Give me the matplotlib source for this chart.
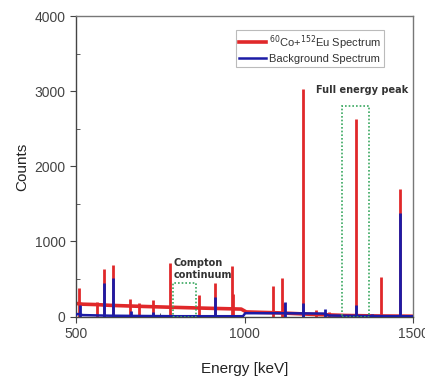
import matplotlib
matplotlib.use("Agg")
import matplotlib.pyplot as plt
from matplotlib.patches import Rectangle
from matplotlib.ticker import MultipleLocator

plt.rcParams['font.family'] = ['Liberation Sans', 'DejaVu Sans']

# Continuum (baseline) anchor points
red_base_energy = [500, 520, 560, 600, 700, 800, 900, 990, 1005, 1100, 1200, 1300, 1400, 1500]
red_base_counts = [175, 165, 160, 150, 135, 122, 110, 100, 62, 50, 30, 15, 8, 5]
blue_base_energy = [500, 505, 520, 600, 700, 800, 995, 1002, 1100, 1235, 1250, 1350, 1500]
blue_base_counts = [25, 35, 20, 12, 8, 5, 5, 45, 45, 40, 15, 8, 4]

# Peaks (energy keV, counts)
red_peak_energy = [509, 561, 583, 609, 661, 687, 727, 779, 866, 911, 963, 967, 1085, 1112, 1117, 1173, 1212, 1250, 1332, 1406, 1460]
red_peak_counts = [378, 200, 631, 689, 236, 180, 222, 711, 289, 444, 676, 300, 413, 520, 180, 3030, 90, 60, 2631, 533, 1698]
blue_peak_energy = [511, 583, 609, 662, 727, 911, 1120, 1173, 1238, 1332, 1377, 1460]
blue_peak_counts = [150, 444, 511, 80, 67, 267, 200, 180, 98, 155, 30, 1378]

red = '#e0282a'
blue = '#1c1ca6'
green = '#3aa860'

fig = plt.figure(figsize=(4.25, 3.76), dpi=100)
ax = fig.add_axes([0.179, 0.158, 0.793, 0.799])

ax.plot(red_base_energy, red_base_counts, color=red, lw=2.6, label=r'$^{60}$Co+$^{152}$Eu Spectrum', zorder=2)
ax.vlines(red_peak_energy, 0, red_peak_counts, color=red, lw=2.0, zorder=2)
ax.plot(blue_base_energy, blue_base_counts, color=blue, lw=1.8, label='Background Spectrum', zorder=3)
ax.vlines(blue_peak_energy, 0, blue_peak_counts, color=blue, lw=2.0, zorder=3)

# Dotted boxes
ax.add_patch(Rectangle((788, 0), 67, 444, fill=False, ec=green, ls=(0, (1, 1.2)), lw=1.2, zorder=4))
ax.add_patch(Rectangle((1290, 0), 79, 2800, fill=False, ec=green, ls=(0, (1, 1.2)), lw=1.2, zorder=4))

ax.text(788, 780, 'Compton\ncontinuum', fontsize=7, fontweight='bold', color='#333333',
        ha='left', va='top', linespacing=1.3, family=['DejaVu Sans'])
ax.text(1213, 3020, 'Full energy peak', fontsize=7, fontweight='bold', color='#333333',
        ha='left', va='center', family=['DejaVu Sans'])

ax.set_xlim(500, 1500)
ax.set_ylim(0, 4000)
ax.set_xticks([500, 1000, 1500])
ax.set_yticks([0, 1000, 2000, 3000, 4000])
ax.xaxis.set_minor_locator(MultipleLocator(250))
ax.yaxis.set_minor_locator(MultipleLocator(500))
ax.tick_params(axis='both', which='major', direction='out', length=4, labelsize=10,
               colors='#444444', labelcolor='#444444')
ax.tick_params(axis='both', which='minor', direction='in', length=3, colors='#444444')
for name, s in ax.spines.items():
    s.set_color('#444444' if name in ('left', 'bottom') else '#777777')
    s.set_linewidth(1.0)

ax.set_xlabel('Energy [keV]', fontsize=11, color='#222222', labelpad=15)
ax.set_ylabel('Counts', fontsize=11, color='#222222', labelpad=4)

leg = ax.legend(loc='upper right', bbox_to_anchor=(0.915, 0.955), fontsize=8, frameon=True,
                fancybox=False, edgecolor='#aaaaaa', handlelength=2.4, handletextpad=0.3,
                borderpad=0.3, labelspacing=0.2, borderaxespad=0)
leg.get_frame().set_linewidth(0.8)
for t in leg.get_texts():
    t.set_color('#333333')

fig.savefig('out.png', dpi=100)
